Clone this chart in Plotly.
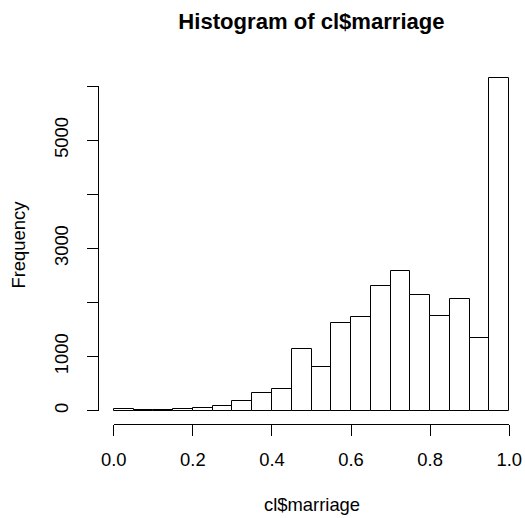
import plotly.graph_objects as go
import numpy as np

# Data: histogram of cl$marriage, 20 bins of width 0.05 on [0, 1]
bin_edges = [0.0, 0.05, 0.10, 0.15, 0.20, 0.25, 0.30, 0.35, 0.40, 0.45, 0.50,
             0.55, 0.60, 0.65, 0.70, 0.75, 0.80, 0.85, 0.90, 0.95, 1.0]
counts = [37, 12, 10, 30, 55, 86, 179, 327, 410, 1136, 815,
          1630, 1728, 2302, 2580, 2130, 1759, 2062, 1352, 6143]
x_ticks = [0.0, 0.2, 0.4, 0.6, 0.8, 1.0]
x_ticktext = ["0.0", "0.2", "0.4", "0.6", "0.8", "1.0"]
y_ticks = [0, 1000, 2000, 3000, 4000, 5000, 6000]
y_ticktext = ["0", "1000", "", "3000", "", "5000", ""]

FONT = "Liberation Sans, Arial, Helvetica, sans-serif"
BASE = 18.4

edges = np.array(bin_edges)
mids = (edges[:-1] + edges[1:]) / 2
widths = edges[1:] - edges[:-1]

xmin, xmax = edges[0], edges[-1]
ymin, ymax = 0, max(counts)
xr = [xmin - 0.04 * (xmax - xmin), xmax + 0.04 * (xmax - xmin)]
yr = [ymin - 0.04 * (ymax - ymin), ymax + 0.04 * (ymax - ymin)]

def frac(v, r):
    return (v - r[0]) / (r[1] - r[0])

fig = go.Figure()
fig.add_trace(go.Bar(
    x=mids, y=counts, width=widths,
    marker=dict(color="white", line=dict(color="black", width=1)),
    hoverinfo="x+y", showlegend=False,
))
# empty trace to host the R-style detached axes
fig.add_trace(go.Scatter(x=[], y=[], xaxis="x2", yaxis="y2", showlegend=False))

axis_common = dict(
    showline=True, linecolor="black", linewidth=1,
    ticks="outside", ticklen=11, tickwidth=1, tickcolor="black",
    showgrid=False, zeroline=False, automargin=False, fixedrange=True,
    tickfont=dict(family=FONT, size=BASE, color="black"),
)

fig.update_layout(
    width=525, height=518,
    margin=dict(l=98, r=0, t=65, b=94),
    paper_bgcolor="white", plot_bgcolor="rgba(0,0,0,0)",
    font=dict(family=FONT, size=BASE, color="black"),
    bargap=0,
    xaxis=dict(range=xr, visible=False, domain=[0, 1], fixedrange=True, automargin=False),
    yaxis=dict(range=yr, visible=False, domain=[0, 1], fixedrange=True, automargin=False),
    xaxis2=dict(
        range=[x_ticks[0], x_ticks[-1]],
        domain=[frac(x_ticks[0], xr), frac(x_ticks[-1], xr)],
        anchor="free", position=0, side="bottom",
        tickvals=x_ticks, ticktext=x_ticktext,
        ticklabelstandoff=8,
        **axis_common,
    ),
    yaxis2=dict(
        range=[y_ticks[0], y_ticks[-1]],
        domain=[frac(y_ticks[0], yr), frac(y_ticks[-1], yr)],
        anchor="free", position=0, side="left",
        tickvals=y_ticks, ticktext=y_ticktext, tickangle=-90,
        ticklabelstandoff=12,
        **axis_common,
    ),
    title=dict(
        text="<b>Histogram of cl$marriage</b>",
        x=0.5, xref="paper", y=1 - 21 / 518, yref="container",
        xanchor="center", yanchor="middle",
        font=dict(family=FONT, size=BASE * 1.2, color="black"),
    ),
    annotations=[
        dict(text="cl$marriage", xref="paper", yref="paper", x=0.5, y=0,
             xanchor="center", yanchor="middle", yshift=-80, showarrow=False,
             font=dict(family=FONT, size=BASE, color="black")),
        dict(text="Frequency", xref="paper", yref="paper", x=0, y=0.5,
             xanchor="center", yanchor="middle", xshift=-80, textangle=-90,
             showarrow=False, font=dict(family=FONT, size=BASE, color="black")),
    ],
)

fig.write_html("out.html")
